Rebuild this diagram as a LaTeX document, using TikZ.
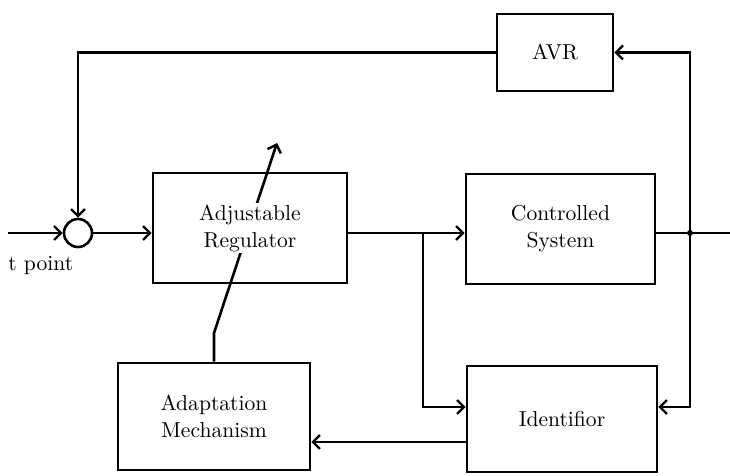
\documentclass[tikz,border=0pt]{standalone}
\usepackage{tikz}
\usetikzlibrary{arrows.meta,positioning}

\begin{document}
\begin{tikzpicture}[x=0.5pt,y=-0.5pt,
    >={Straight Barb[length=3.5pt,width=7pt,line width=1.2pt]},
    every node/.style={align=center,font=\fontsize{10.8}{13.5}\selectfont},
    blk/.style={draw,line width=1.3pt,inner sep=0pt},
    wire/.style={line width=1.3pt}]
    \useasboundingbox (0,0) rectangle (730,476);
    % blocks
    \node[blk,minimum width=97pt,minimum height=55pt] (reg) at (250,228) {};
    \node[blk,minimum width=94.5pt,minimum height=55pt] (plant) at (560.5,229)
      {Controlled\\System};
    \node[blk,minimum width=58pt,minimum height=38.5pt] (avr) at (555,52.5) {AVR};
    \node[blk,minimum width=96pt,minimum height=53.5pt] (adapt) at (214,416.5)
      {Adaptation\\Mechanism};
    \node[blk,minimum width=95pt,minimum height=53pt] (ident) at (562,419) {Identifior};
    \node[circle,draw,line width=1.3pt,minimum size=14pt,inner sep=0pt] (sum) at (78,233) {};
    % adjustment arrow through the regulator
    \coordinate (bend) at (214,333);
    \coordinate (tune) at (277,143);
    \draw[wire,->] (adapt.north) -- (bend) -- (tune);
    \node[fill=white,inner sep=1pt] (regtext) at (reg) {Adjustable\\Regulator};
    % signal lines
    \coordinate (in) at (8,233);
    \coordinate (split) at (423,233);
    \coordinate (out) at (690,233);
    \coordinate (end) at (730,233);
    \coordinate (idin) at (0,407);
    \coordinate (adin) at (0,442);
    \draw[wire,->] (in) -- (sum);
    \draw[wire,->] (sum) -- (sum -| reg.west);
    \draw[wire] (reg.east |- split) -- (split);
    \draw[wire,->] (split) -- (split -| plant.west);
    \draw[wire,->] (split) |- (ident.west |- idin);
    \draw[wire] (plant.east |- out) -- (end);
    \fill (out) circle (1.5pt);
    \draw[wire,->] (out) |- (avr.east);
    \draw[wire,->] (out) |- (ident.east |- idin);
    \draw[wire,->] (avr.west) -| (sum.north);
    \draw[wire,->] (ident.west |- adin) -- (adin -| adapt.east);
    \node[anchor=west,inner sep=0pt] (sp) at (8,265) {t point};
\end{tikzpicture}
\end{document}
